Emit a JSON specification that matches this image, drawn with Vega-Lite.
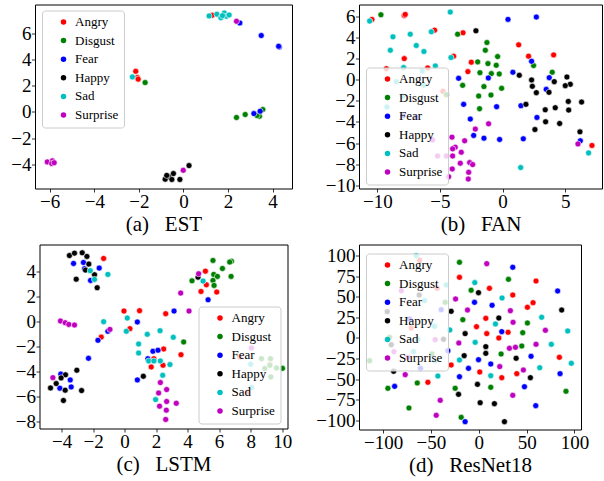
{
  "$schema": "https://vega.github.io/schema/vega-lite/v6.json",
  "padding": {"left": 10, "top": 3.5, "right": 0, "bottom": 0},
  "background": "white",
  "config": {
    "view": {"stroke": "#000000", "strokeWidth": 1},
    "axis": {"grid": false, "domain": false, "tickColor": "#000000", "tickSize": 3.5, "tickWidth": 0.8, "labelFont": "Liberation Serif", "labelFontSize": 19, "labelColor": "#000000", "labelPadding": 0.5, "titleFont": "Liberation Serif", "titleFontSize": 21, "titleFontWeight": "normal", "titleColor": "#000000", "labelFlush": false, "labelOverlap": false},
    "axisX": {"titleY": 42, "titleBaseline": "alphabetic"},
    "legend": {"labelFont": "Liberation Serif", "labelFontSize": 13, "labelColor": "#000000", "symbolType": "circle", "symbolSize": 30, "symbolStrokeWidth": 0, "symbolOpacity": 1, "fillColor": "rgba(255,255,255,0.8)", "strokeColor": "#cccccc", "cornerRadius": 3, "padding": 5, "rowPadding": 4.6, "labelOffset": 5, "symbolOffset": 10, "labelLimit": 200}
  },
  "datasets": {
    "a": [
      {"x":1.29,"y":7.38,"e":"Angry"},{"x":-2.14,"y":3.1,"e":"Angry"},{"x":-2.07,"y":2.62,"e":"Angry"},{"x":-2.03,"y":2.5,"e":"Angry"},
      {"x":-1.72,"y":2.24,"e":"Disgust"},{"x":2.38,"y":-0.43,"e":"Disgust"},{"x":2.77,"y":-0.2,"e":"Disgust"},{"x":3.41,"y":-0.33,"e":"Disgust"},{"x":3.56,"y":0.18,"e":"Disgust"},{"x":3.3,"y":-0.28,"e":"Disgust"},
      {"x":2.53,"y":6.79,"e":"Fear"},{"x":3.49,"y":5.83,"e":"Fear"},{"x":4.3,"y":4.95,"e":"Fear"},{"x":4.27,"y":5.01,"e":"Fear"},{"x":3.16,"y":-0.13,"e":"Fear"},{"x":3.44,"y":0.05,"e":"Fear"},
      {"x":-0.64,"y":-4.96,"e":"Happy"},{"x":-0.45,"y":-4.71,"e":"Happy"},{"x":-0.52,"y":-5.16,"e":"Happy"},{"x":-0.82,"y":-5.14,"e":"Happy"},{"x":-0.16,"y":-5.16,"e":"Happy"},{"x":0.25,"y":-4.1,"e":"Happy"},{"x":-0.75,"y":-4.85,"e":"Happy"},
      {"x":1.15,"y":7.33,"e":"Sad"},{"x":1.5,"y":7.46,"e":"Sad"},{"x":1.68,"y":7.19,"e":"Sad"},{"x":1.83,"y":7.55,"e":"Sad"},{"x":1.93,"y":7.3,"e":"Sad"},{"x":2.05,"y":7.4,"e":"Sad"},{"x":1.75,"y":7.35,"e":"Sad"},{"x":-2.29,"y":2.67,"e":"Sad"},
      {"x":2.38,"y":6.92,"e":"Surprise"},{"x":-0.01,"y":-4.46,"e":"Surprise"},{"x":-6.11,"y":-3.82,"e":"Surprise"},{"x":-5.88,"y":-3.74,"e":"Surprise"},{"x":-5.91,"y":-3.94,"e":"Surprise"},{"x":-5.8,"y":-3.88,"e":"Surprise"}
    ],
    "b": [
      {"x":-10.43,"y":5.7,"e":"Angry"},{"x":-7.85,"y":6.08,"e":"Angry"},{"x":-7.77,"y":6.17,"e":"Angry"},{"x":-5.43,"y":4.68,"e":"Angry"},{"x":-3.16,"y":4.43,"e":"Angry"},{"x":-7.85,"y":1.99,"e":"Angry"},{"x":-3.91,"y":2.22,"e":"Angry"},{"x":-2.5,"y":1.65,"e":"Angry"},{"x":-2.77,"y":0.76,"e":"Angry"},{"x":-9.28,"y":1.04,"e":"Angry"},{"x":-5.98,"y":1.11,"e":"Angry"},{"x":-4.76,"y":-1.11,"e":"Angry"},{"x":1.28,"y":3.29,"e":"Angry"},{"x":2.07,"y":2.22,"e":"Angry"},{"x":4.07,"y":2.34,"e":"Angry"},{"x":7.13,"y":-6.23,"e":"Angry"},
      {"x":-9.71,"y":6.14,"e":"Disgust"},{"x":-3.59,"y":4.3,"e":"Disgust"},{"x":-1.25,"y":3.51,"e":"Disgust"},{"x":-1.38,"y":2.78,"e":"Disgust"},{"x":-0.4,"y":2.18,"e":"Disgust"},{"x":-1.99,"y":1.68,"e":"Disgust"},{"x":-1.17,"y":1.52,"e":"Disgust"},{"x":-0.51,"y":1.36,"e":"Disgust"},{"x":2.47,"y":1.33,"e":"Disgust"},{"x":-1.81,"y":0.66,"e":"Disgust"},{"x":-0.9,"y":0.57,"e":"Disgust"},{"x":-0.27,"y":0.54,"e":"Disgust"},{"x":3.96,"y":0.7,"e":"Disgust"},{"x":-3.19,"y":-0.54,"e":"Disgust"},{"x":-1.49,"y":-0.66,"e":"Disgust"},{"x":-0.08,"y":-0.82,"e":"Disgust"},{"x":-1.91,"y":-1.55,"e":"Disgust"},{"x":-0.93,"y":-1.46,"e":"Disgust"},{"x":-1.84,"y":-2.75,"e":"Disgust"},{"x":-4.49,"y":-1.42,"e":"Disgust"},
      {"x":0.43,"y":5.7,"e":"Fear"},{"x":2.69,"y":5.92,"e":"Fear"},{"x":2.31,"y":1.74,"e":"Fear"},{"x":3.72,"y":0.19,"e":"Fear"},{"x":3.48,"y":-0.92,"e":"Fear"},{"x":2.74,"y":-3.58,"e":"Fear"},{"x":6.2,"y":-5.79,"e":"Fear"},{"x":-3.51,"y":0.13,"e":"Fear"},{"x":-1.14,"y":0.16,"e":"Fear"},{"x":0.82,"y":0.7,"e":"Fear"},{"x":-3.11,"y":-2.34,"e":"Fear"},{"x":-0.48,"y":-2.56,"e":"Fear"},{"x":1.46,"y":-2.47,"e":"Fear"},{"x":-2.58,"y":-3.73,"e":"Fear"},{"x":-2.31,"y":-5.28,"e":"Fear"},{"x":-1.49,"y":-5.54,"e":"Fear"},{"x":-0.24,"y":-5.66,"e":"Fear"},{"x":1.65,"y":-5.6,"e":"Fear"},{"x":-7.95,"y":-3.42,"e":"Fear"},{"x":-6.89,"y":-3.54,"e":"Fear"},
      {"x":-2.13,"y":4.62,"e":"Happy"},{"x":1.33,"y":0.41,"e":"Happy"},{"x":2.31,"y":-0.03,"e":"Happy"},{"x":4.12,"y":-0.19,"e":"Happy"},{"x":5.13,"y":0.25,"e":"Happy"},{"x":2.37,"y":-0.63,"e":"Happy"},{"x":5.4,"y":-0.44,"e":"Happy"},{"x":5.0,"y":-0.57,"e":"Happy"},{"x":2.69,"y":-1.23,"e":"Happy"},{"x":3.7,"y":-1.2,"e":"Happy"},{"x":1.86,"y":-2.34,"e":"Happy"},{"x":5.24,"y":-2.06,"e":"Happy"},{"x":6.3,"y":-2.12,"e":"Happy"},{"x":3.4,"y":-2.85,"e":"Happy"},{"x":4.2,"y":-2.66,"e":"Happy"},{"x":5.27,"y":-2.88,"e":"Happy"},{"x":3.43,"y":-3.99,"e":"Happy"},{"x":4.55,"y":-4.15,"e":"Happy"},{"x":2.58,"y":-4.72,"e":"Happy"},{"x":6.17,"y":-4.94,"e":"Happy"},
      {"x":-10.61,"y":5.54,"e":"Sad"},{"x":-4.18,"y":6.39,"e":"Sad"},{"x":-8.75,"y":4.05,"e":"Sad"},{"x":-7.37,"y":4.3,"e":"Sad"},{"x":-5.69,"y":4.53,"e":"Sad"},{"x":-8.96,"y":2.78,"e":"Sad"},{"x":-6.89,"y":3.23,"e":"Sad"},{"x":-6.28,"y":2.66,"e":"Sad"},{"x":-4.12,"y":2.09,"e":"Sad"},{"x":-7.9,"y":1.14,"e":"Sad"},{"x":-6.41,"y":0.82,"e":"Sad"},{"x":-5.37,"y":1.3,"e":"Sad"},{"x":-8.48,"y":-0.19,"e":"Sad"},{"x":-6.3,"y":-0.54,"e":"Sad"},{"x":-7.98,"y":-1.58,"e":"Sad"},{"x":-9.23,"y":-2.59,"e":"Sad"},{"x":6.86,"y":-6.93,"e":"Sad"},{"x":1.44,"y":-8.32,"e":"Sad"},
      {"x":-2.18,"y":-4.68,"e":"Surprise"},{"x":-1.12,"y":-4.18,"e":"Surprise"},{"x":-3.03,"y":-5.79,"e":"Surprise"},{"x":-3.78,"y":-6.39,"e":"Surprise"},{"x":-3.3,"y":-6.87,"e":"Surprise"},{"x":-3.38,"y":-7.91,"e":"Surprise"},{"x":-2.63,"y":-7.85,"e":"Surprise"},{"x":-2.39,"y":-8.04,"e":"Surprise"},{"x":-2.71,"y":-8.77,"e":"Surprise"},{"x":-2.74,"y":-9.4,"e":"Surprise"},{"x":-5.59,"y":-5.7,"e":"Surprise"},{"x":-4.04,"y":-5.44,"e":"Surprise"},{"x":-3.99,"y":-6.55,"e":"Surprise"},{"x":-5.19,"y":-7.22,"e":"Surprise"},{"x":-4.49,"y":-7.22,"e":"Surprise"},{"x":-3.99,"y":-7.22,"e":"Surprise"},{"x":-4.02,"y":-8.45,"e":"Surprise"},{"x":-4.31,"y":-9.18,"e":"Surprise"},{"x":6.01,"y":-6.08,"e":"Surprise"}
    ],
    "c": [
      {"x":-1.33,"y":5.01,"e":"Angry"},{"x":-0.04,"y":0.82,"e":"Angry"},{"x":0.95,"y":0.85,"e":"Angry"},{"x":0.34,"y":-0.58,"e":"Angry"},{"x":-1.48,"y":-1.25,"e":"Angry"},{"x":5.13,"y":4.0,"e":"Angry"},{"x":5.19,"y":2.91,"e":"Angry"},{"x":4.85,"y":2.38,"e":"Angry"},{"x":5.85,"y":2.33,"e":"Angry"},{"x":2.61,"y":0.61,"e":"Angry"},{"x":2.48,"y":-2.2,"e":"Angry"},{"x":3.58,"y":-2.65,"e":"Angry"},{"x":1.86,"y":-2.97,"e":"Angry"},{"x":1.69,"y":-3.63,"e":"Angry"},{"x":2.44,"y":-3.5,"e":"Angry"},{"x":7.31,"y":-2.83,"e":"Angry"},{"x":9.22,"y":-3.42,"e":"Angry"},{"x":7.84,"y":-5.62,"e":"Angry"},
      {"x":5.61,"y":4.85,"e":"Disgust"},{"x":6.78,"y":4.79,"e":"Disgust"},{"x":6.67,"y":4.72,"e":"Disgust"},{"x":6.21,"y":4.21,"e":"Disgust"},{"x":5.66,"y":3.74,"e":"Disgust"},{"x":5.89,"y":3.58,"e":"Disgust"},{"x":4.28,"y":3.23,"e":"Disgust"},{"x":5.61,"y":3.26,"e":"Disgust"},{"x":5.68,"y":2.86,"e":"Disgust"},{"x":6.76,"y":3.58,"e":"Disgust"},{"x":3.75,"y":-1.64,"e":"Disgust"},{"x":8.69,"y":-2.97,"e":"Disgust"},{"x":9.26,"y":-2.97,"e":"Disgust"},{"x":9.64,"y":-3.71,"e":"Disgust"},{"x":10.02,"y":-3.74,"e":"Disgust"},{"x":8.9,"y":-3.76,"e":"Disgust"},{"x":9.28,"y":-4.42,"e":"Disgust"},{"x":9.22,"y":-3.5,"e":"Disgust"},
      {"x":-3.24,"y":4.61,"e":"Fear"},{"x":-2.61,"y":4.69,"e":"Fear"},{"x":-1.61,"y":4.24,"e":"Fear"},{"x":-2.54,"y":4.19,"e":"Fear"},{"x":-2.16,"y":3.26,"e":"Fear"},{"x":0.81,"y":-0.05,"e":"Fear"},{"x":-1.06,"y":-0.79,"e":"Fear"},{"x":-1.69,"y":-1.51,"e":"Fear"},{"x":-2.29,"y":-2.94,"e":"Fear"},{"x":1.8,"y":-2.38,"e":"Fear"},{"x":2.12,"y":-2.3,"e":"Fear"},{"x":1.48,"y":-2.97,"e":"Fear"},{"x":0.81,"y":-4.66,"e":"Fear"},{"x":3.14,"y":0.82,"e":"Fear"},{"x":5.3,"y":1.72,"e":"Fear"},{"x":-3.45,"y":-4.66,"e":"Fear"},{"x":-4.11,"y":-5.32,"e":"Fear"},{"x":-3.39,"y":-5.22,"e":"Fear"},{"x":-4.05,"y":-4.2,"e":"Fear"},
      {"x":-3.5,"y":5.24,"e":"Happy"},{"x":-3.18,"y":5.43,"e":"Happy"},{"x":-2.69,"y":5.46,"e":"Happy"},{"x":-2.39,"y":5.17,"e":"Happy"},{"x":-2.27,"y":4.56,"e":"Happy"},{"x":-2.48,"y":4.08,"e":"Happy"},{"x":-1.91,"y":3.71,"e":"Happy"},{"x":-3.07,"y":3.36,"e":"Happy"},{"x":-1.74,"y":2.68,"e":"Happy"},{"x":4.66,"y":3.52,"e":"Happy"},{"x":1.19,"y":-4.37,"e":"Happy"},{"x":-3.03,"y":-3.89,"e":"Happy"},{"x":-3.75,"y":-4.26,"e":"Happy"},{"x":-4.03,"y":-4.5,"e":"Happy"},{"x":-4.34,"y":-4.95,"e":"Happy"},{"x":-4.7,"y":-5.3,"e":"Happy"},{"x":-3.77,"y":-5.48,"e":"Happy"},{"x":-2.73,"y":-5.51,"e":"Happy"},{"x":-3.88,"y":-6.3,"e":"Happy"},
      {"x":-2.18,"y":4.03,"e":"Sad"},{"x":-1.06,"y":3.74,"e":"Sad"},{"x":-1.91,"y":3.34,"e":"Sad"},{"x":-1.33,"y":-0.03,"e":"Sad"},{"x":0.17,"y":0.26,"e":"Sad"},{"x":0.11,"y":-0.79,"e":"Sad"},{"x":0.89,"y":-1.8,"e":"Sad"},{"x":0.89,"y":-2.52,"e":"Sad"},{"x":1.44,"y":-1.03,"e":"Sad"},{"x":1.53,"y":-3.15,"e":"Sad"},{"x":1.86,"y":-3.15,"e":"Sad"},{"x":2.25,"y":-0.74,"e":"Sad"},{"x":3.09,"y":-1.27,"e":"Sad"},{"x":2.27,"y":-3.15,"e":"Sad"},{"x":2.88,"y":-3.44,"e":"Sad"},{"x":2.42,"y":-4.29,"e":"Sad"},{"x":1.97,"y":-6.23,"e":"Sad"},{"x":4.98,"y":3.21,"e":"Sad"},{"x":8.0,"y":-3.42,"e":"Sad"},{"x":8.05,"y":-5.27,"e":"Sad"},
      {"x":-4.07,"y":0.03,"e":"Surprise"},{"x":-3.77,"y":-0.11,"e":"Surprise"},{"x":-3.54,"y":-0.24,"e":"Surprise"},{"x":-3.18,"y":-0.29,"e":"Surprise"},{"x":-0.93,"y":-0.64,"e":"Surprise"},{"x":-4.55,"y":-4.48,"e":"Surprise"},{"x":4.7,"y":3.79,"e":"Surprise"},{"x":3.56,"y":2.25,"e":"Surprise"},{"x":4.09,"y":0.82,"e":"Surprise"},{"x":2.27,"y":-4.87,"e":"Surprise"},{"x":2.67,"y":-5.43,"e":"Surprise"},{"x":2.16,"y":-5.7,"e":"Surprise"},{"x":2.67,"y":-6.38,"e":"Surprise"},{"x":3.28,"y":-6.52,"e":"Surprise"},{"x":2.22,"y":-6.75,"e":"Surprise"},{"x":2.65,"y":-7.07,"e":"Surprise"},{"x":2.61,"y":-7.81,"e":"Surprise"},{"x":8.05,"y":-2.12,"e":"Surprise"}
    ],
    "d": [
      {"x":11.1,"y":60.2,"e":"Angry"},{"x":59.8,"y":69.1,"e":"Angry"},{"x":35.5,"y":52.1,"e":"Angry"},{"x":56.7,"y":42.8,"e":"Angry"},{"x":50.8,"y":37.2,"e":"Angry"},{"x":7.3,"y":23.8,"e":"Angry"},{"x":-2.4,"y":13.7,"e":"Angry"},{"x":8.3,"y":5.3,"e":"Angry"},{"x":30.6,"y":6.9,"e":"Angry"},{"x":20.9,"y":0,"e":"Angry"},{"x":84.2,"y":-23.4,"e":"Angry"},{"x":1.0,"y":-41.2,"e":"Angry"},{"x":39.7,"y":-43.2,"e":"Angry"},{"x":24.0,"y":-48.1,"e":"Angry"},{"x":-20.2,"y":73.5,"e":"Angry"},{"x":-53.2,"y":-53.7,"e":"Angry"},{"x":-61.9,"y":94.5,"e":"Angry"},{"x":-43.5,"y":60.2,"e":"Angry"},{"x":-70.6,"y":12.1,"e":"Angry"},{"x":-28.9,"y":-32.7,"e":"Angry"},
      {"x":-20.2,"y":91.7,"e":"Disgust"},{"x":31.0,"y":71.1,"e":"Disgust"},{"x":-8.0,"y":57.8,"e":"Disgust"},{"x":-16.7,"y":22.2,"e":"Disgust"},{"x":50.8,"y":18.2,"e":"Disgust"},{"x":45.9,"y":6.5,"e":"Disgust"},{"x":44.9,"y":-9.7,"e":"Disgust"},{"x":23.3,"y":-19.4,"e":"Disgust"},{"x":12.5,"y":-59.8,"e":"Disgust"},{"x":91.1,"y":-64.6,"e":"Disgust"},{"x":-64.3,"y":-54.5,"e":"Disgust"},{"x":-95.0,"y":-61.0,"e":"Disgust"},{"x":-24.7,"y":-61.0,"e":"Disgust"},{"x":-73.0,"y":-84.8,"e":"Disgust"},{"x":-18.4,"y":-96.2,"e":"Disgust"},{"x":-35.1,"y":43.2,"e":"Disgust"},{"x":-93.2,"y":0.8,"e":"Disgust"},{"x":-49.0,"y":-19.4,"e":"Disgust"},{"x":-114.1,"y":-27.5,"e":"Disgust"},
      {"x":35.5,"y":85.7,"e":"Fear"},{"x":82.4,"y":57.0,"e":"Fear"},{"x":-4.5,"y":43.2,"e":"Fear"},{"x":13.9,"y":39.6,"e":"Fear"},{"x":24.0,"y":7.7,"e":"Fear"},{"x":-0.3,"y":-26.3,"e":"Fear"},{"x":54.6,"y":-22.2,"e":"Fear"},{"x":-10.8,"y":-36.8,"e":"Fear"},{"x":12.5,"y":-31.5,"e":"Fear"},{"x":84.9,"y":-43.2,"e":"Fear"},{"x":47.7,"y":-59.0,"e":"Fear"},{"x":59.5,"y":-82.0,"e":"Fear"},{"x":-14.3,"y":-101.4,"e":"Fear"},{"x":-20.2,"y":-46.9,"e":"Fear"},{"x":-88.0,"y":-58.6,"e":"Fear"},{"x":-39.3,"y":34.3,"e":"Fear"},{"x":-72.3,"y":23.0,"e":"Fear"},{"x":-32.3,"y":-15.4,"e":"Fear"},{"x":-60.9,"y":-36.8,"e":"Fear"},
      {"x":-0.3,"y":54.9,"e":"Happy"},{"x":86.6,"y":33.9,"e":"Happy"},{"x":20.9,"y":24.2,"e":"Happy"},{"x":-14.3,"y":5.3,"e":"Happy"},{"x":7.3,"y":-10.5,"e":"Happy"},{"x":7.3,"y":-18.6,"e":"Happy"},{"x":-15.3,"y":-21.4,"e":"Happy"},{"x":39.0,"y":-24.6,"e":"Happy"},{"x":53.9,"y":-48.1,"e":"Happy"},{"x":-1.4,"y":-56.2,"e":"Happy"},{"x":1.4,"y":-78.4,"e":"Happy"},{"x":16.3,"y":-79.6,"e":"Happy"},{"x":26.8,"y":-101.4,"e":"Happy"},{"x":-21.2,"y":-68.3,"e":"Happy"},{"x":-89.0,"y":-40.4,"e":"Happy"},{"x":-62.3,"y":52.1,"e":"Happy"},{"x":-95.7,"y":31.9,"e":"Happy"},{"x":-28.9,"y":32.3,"e":"Happy"},{"x":-36.9,"y":-1.6,"e":"Happy"},{"x":-91.5,"y":-8.1,"e":"Happy"},
      {"x":-4.2,"y":67.1,"e":"Sad"},{"x":24.3,"y":48.5,"e":"Sad"},{"x":65.7,"y":25.1,"e":"Sad"},{"x":17.4,"y":17.0,"e":"Sad"},{"x":92.9,"y":8.5,"e":"Sad"},{"x":-3.8,"y":-5.3,"e":"Sad"},{"x":75.8,"y":-7.7,"e":"Sad"},{"x":63.7,"y":-36.0,"e":"Sad"},{"x":96.7,"y":-30.7,"e":"Sad"},{"x":12.5,"y":-45.7,"e":"Sad"},{"x":-20.2,"y":-26.7,"e":"Sad"},{"x":-42.8,"y":-46.1,"e":"Sad"},{"x":-65.4,"y":99.8,"e":"Sad"},{"x":-34.1,"y":64.2,"e":"Sad"},{"x":-56.7,"y":45.3,"e":"Sad"},{"x":-46.3,"y":14.1,"e":"Sad"},{"x":-30.3,"y":9.7,"e":"Sad"},{"x":-63.7,"y":-1.6,"e":"Sad"},{"x":-68.2,"y":-16.6,"e":"Sad"},{"x":-45.6,"y":-27.5,"e":"Sad"},
      {"x":8.3,"y":90.1,"e":"Surprise"},{"x":-11.8,"y":33.9,"e":"Surprise"},{"x":33.0,"y":33.1,"e":"Surprise"},{"x":35.8,"y":19.0,"e":"Surprise"},{"x":69.6,"y":9.3,"e":"Surprise"},{"x":32.0,"y":-12.5,"e":"Surprise"},{"x":38.3,"y":-11.3,"e":"Surprise"},{"x":59.8,"y":-7.7,"e":"Surprise"},{"x":21.9,"y":-34.7,"e":"Surprise"},{"x":46.6,"y":-38.8,"e":"Surprise"},{"x":35.5,"y":-69.5,"e":"Surprise"},{"x":-24.3,"y":47.3,"e":"Surprise"},{"x":-20.9,"y":-6.1,"e":"Surprise"},{"x":-76.9,"y":-44.4,"e":"Surprise"},{"x":-40.3,"y":-75.6,"e":"Surprise"},{"x":-44.5,"y":-93.7,"e":"Surprise"},{"x":-81.0,"y":57.4,"e":"Surprise"},{"x":-45.6,"y":-2.0,"e":"Surprise"},{"x":-88.7,"y":-16.6,"e":"Surprise"},{"x":-74.1,"y":-23.4,"e":"Surprise"}
    ]
  },
  "columns": 2,
  "spacing": {"row": 56, "column": 67},
  "bounds": "flush",
  "align": "each",
  "center": true,
  "resolve": {"scale": {"color": "independent", "x": "independent", "y": "independent"}, "legend": {"color": "independent"}, "axis": {"x": "independent", "y": "independent"}},
  "concat": [
    {
      "width": 257, "height": 184,
      "data": {"name": "a"},
      "mark": {"type": "circle", "size": 36, "opacity": 1, "stroke": "white", "strokeWidth": 0.6},
      "encoding": {
        "x": {"field": "x", "type": "quantitative", "scale": {"domain": [-6.66, 4.87], "nice": false, "zero": false}, "axis": {"title": "(a)\u00a0\u00a0\u00a0EST", "values": [-6, -4, -2, 0, 2, 4]}},
        "y": {"field": "y", "type": "quantitative", "scale": {"domain": [-5.85, 8.2], "nice": false, "zero": false}, "axis": {"title": null, "values": [-4, -2, 0, 2, 4, 6]}},
        "color": {"field": "e", "type": "nominal", "scale": {"domain": ["Angry", "Disgust", "Fear", "Happy", "Sad", "Surprise"], "range": ["#ff0000", "#008000", "#0000ff", "#000000", "#00bfbf", "#bf00bf"]}, "legend": {"title": null, "orient": "none", "legendX": 7, "legendY": 6}}
      }
    },
    {
      "width": 243, "height": 184,
      "data": {"name": "b"},
      "mark": {"type": "circle", "size": 36, "opacity": 1, "stroke": "white", "strokeWidth": 0.6},
      "encoding": {
        "x": {"field": "x", "type": "quantitative", "scale": {"domain": [-11.46, 7.93], "nice": false, "zero": false}, "axis": {"title": "(b)\u00a0\u00a0\u00a0FAN", "values": [-10, -5, 0, 5]}},
        "y": {"field": "y", "type": "quantitative", "scale": {"domain": [-10.3, 7.11], "nice": false, "zero": false}, "axis": {"title": null, "values": [-10, -8, -6, -4, -2, 0, 2, 4, 6]}},
        "color": {"field": "e", "type": "nominal", "scale": {"domain": ["Angry", "Disgust", "Fear", "Happy", "Sad", "Surprise"], "range": ["#ff0000", "#008000", "#0000ff", "#000000", "#00bfbf", "#bf00bf"]}, "legend": {"title": null, "orient": "none", "legendX": 7, "legendY": 63}}
      }
    },
    {
      "width": 248, "height": 184,
      "data": {"name": "c"},
      "mark": {"type": "circle", "size": 36, "opacity": 1, "stroke": "white", "strokeWidth": 0.6},
      "encoding": {
        "x": {"field": "x", "type": "quantitative", "scale": {"domain": [-5.4, 10.34], "nice": false, "zero": false}, "axis": {"title": "(c)\u00a0\u00a0\u00a0LSTM", "values": [-4, -2, 0, 2, 4, 6, 8, 10]}},
        "y": {"field": "y", "type": "quantitative", "scale": {"domain": [-8.53, 6.12], "nice": false, "zero": false}, "axis": {"title": null, "values": [-8, -6, -4, -2, 0, 2, 4]}},
        "color": {"field": "e", "type": "nominal", "scale": {"domain": ["Angry", "Disgust", "Fear", "Happy", "Sad", "Surprise"], "range": ["#ff0000", "#008000", "#0000ff", "#000000", "#00bfbf", "#bf00bf"]}, "legend": {"title": null, "orient": "none", "legendX": 159, "legendY": 62}}
      }
    },
    {
      "width": 222, "height": 185,
      "data": {"name": "d"},
      "mark": {"type": "circle", "size": 36, "opacity": 1, "stroke": "white", "strokeWidth": 0.6},
      "encoding": {
        "x": {"field": "x", "type": "quantitative", "scale": {"domain": [-125.2, 106.8], "nice": false, "zero": false}, "axis": {"title": "(d)\u00a0\u00a0\u00a0ResNet18", "values": [-100, -50, 0, 50, 100]}},
        "y": {"field": "y", "type": "quantitative", "scale": {"domain": [-110.9, 113.3], "nice": false, "zero": false}, "axis": {"title": null, "values": [-100, -75, -50, -25, 0, 25, 50, 75, 100]}},
        "color": {"field": "e", "type": "nominal", "scale": {"domain": ["Angry", "Disgust", "Fear", "Happy", "Sad", "Surprise"], "range": ["#ff0000", "#008000", "#0000ff", "#000000", "#00bfbf", "#bf00bf"]}, "legend": {"title": null, "orient": "none", "legendX": 7, "legendY": 9}}
      }
    }
  ]
}
